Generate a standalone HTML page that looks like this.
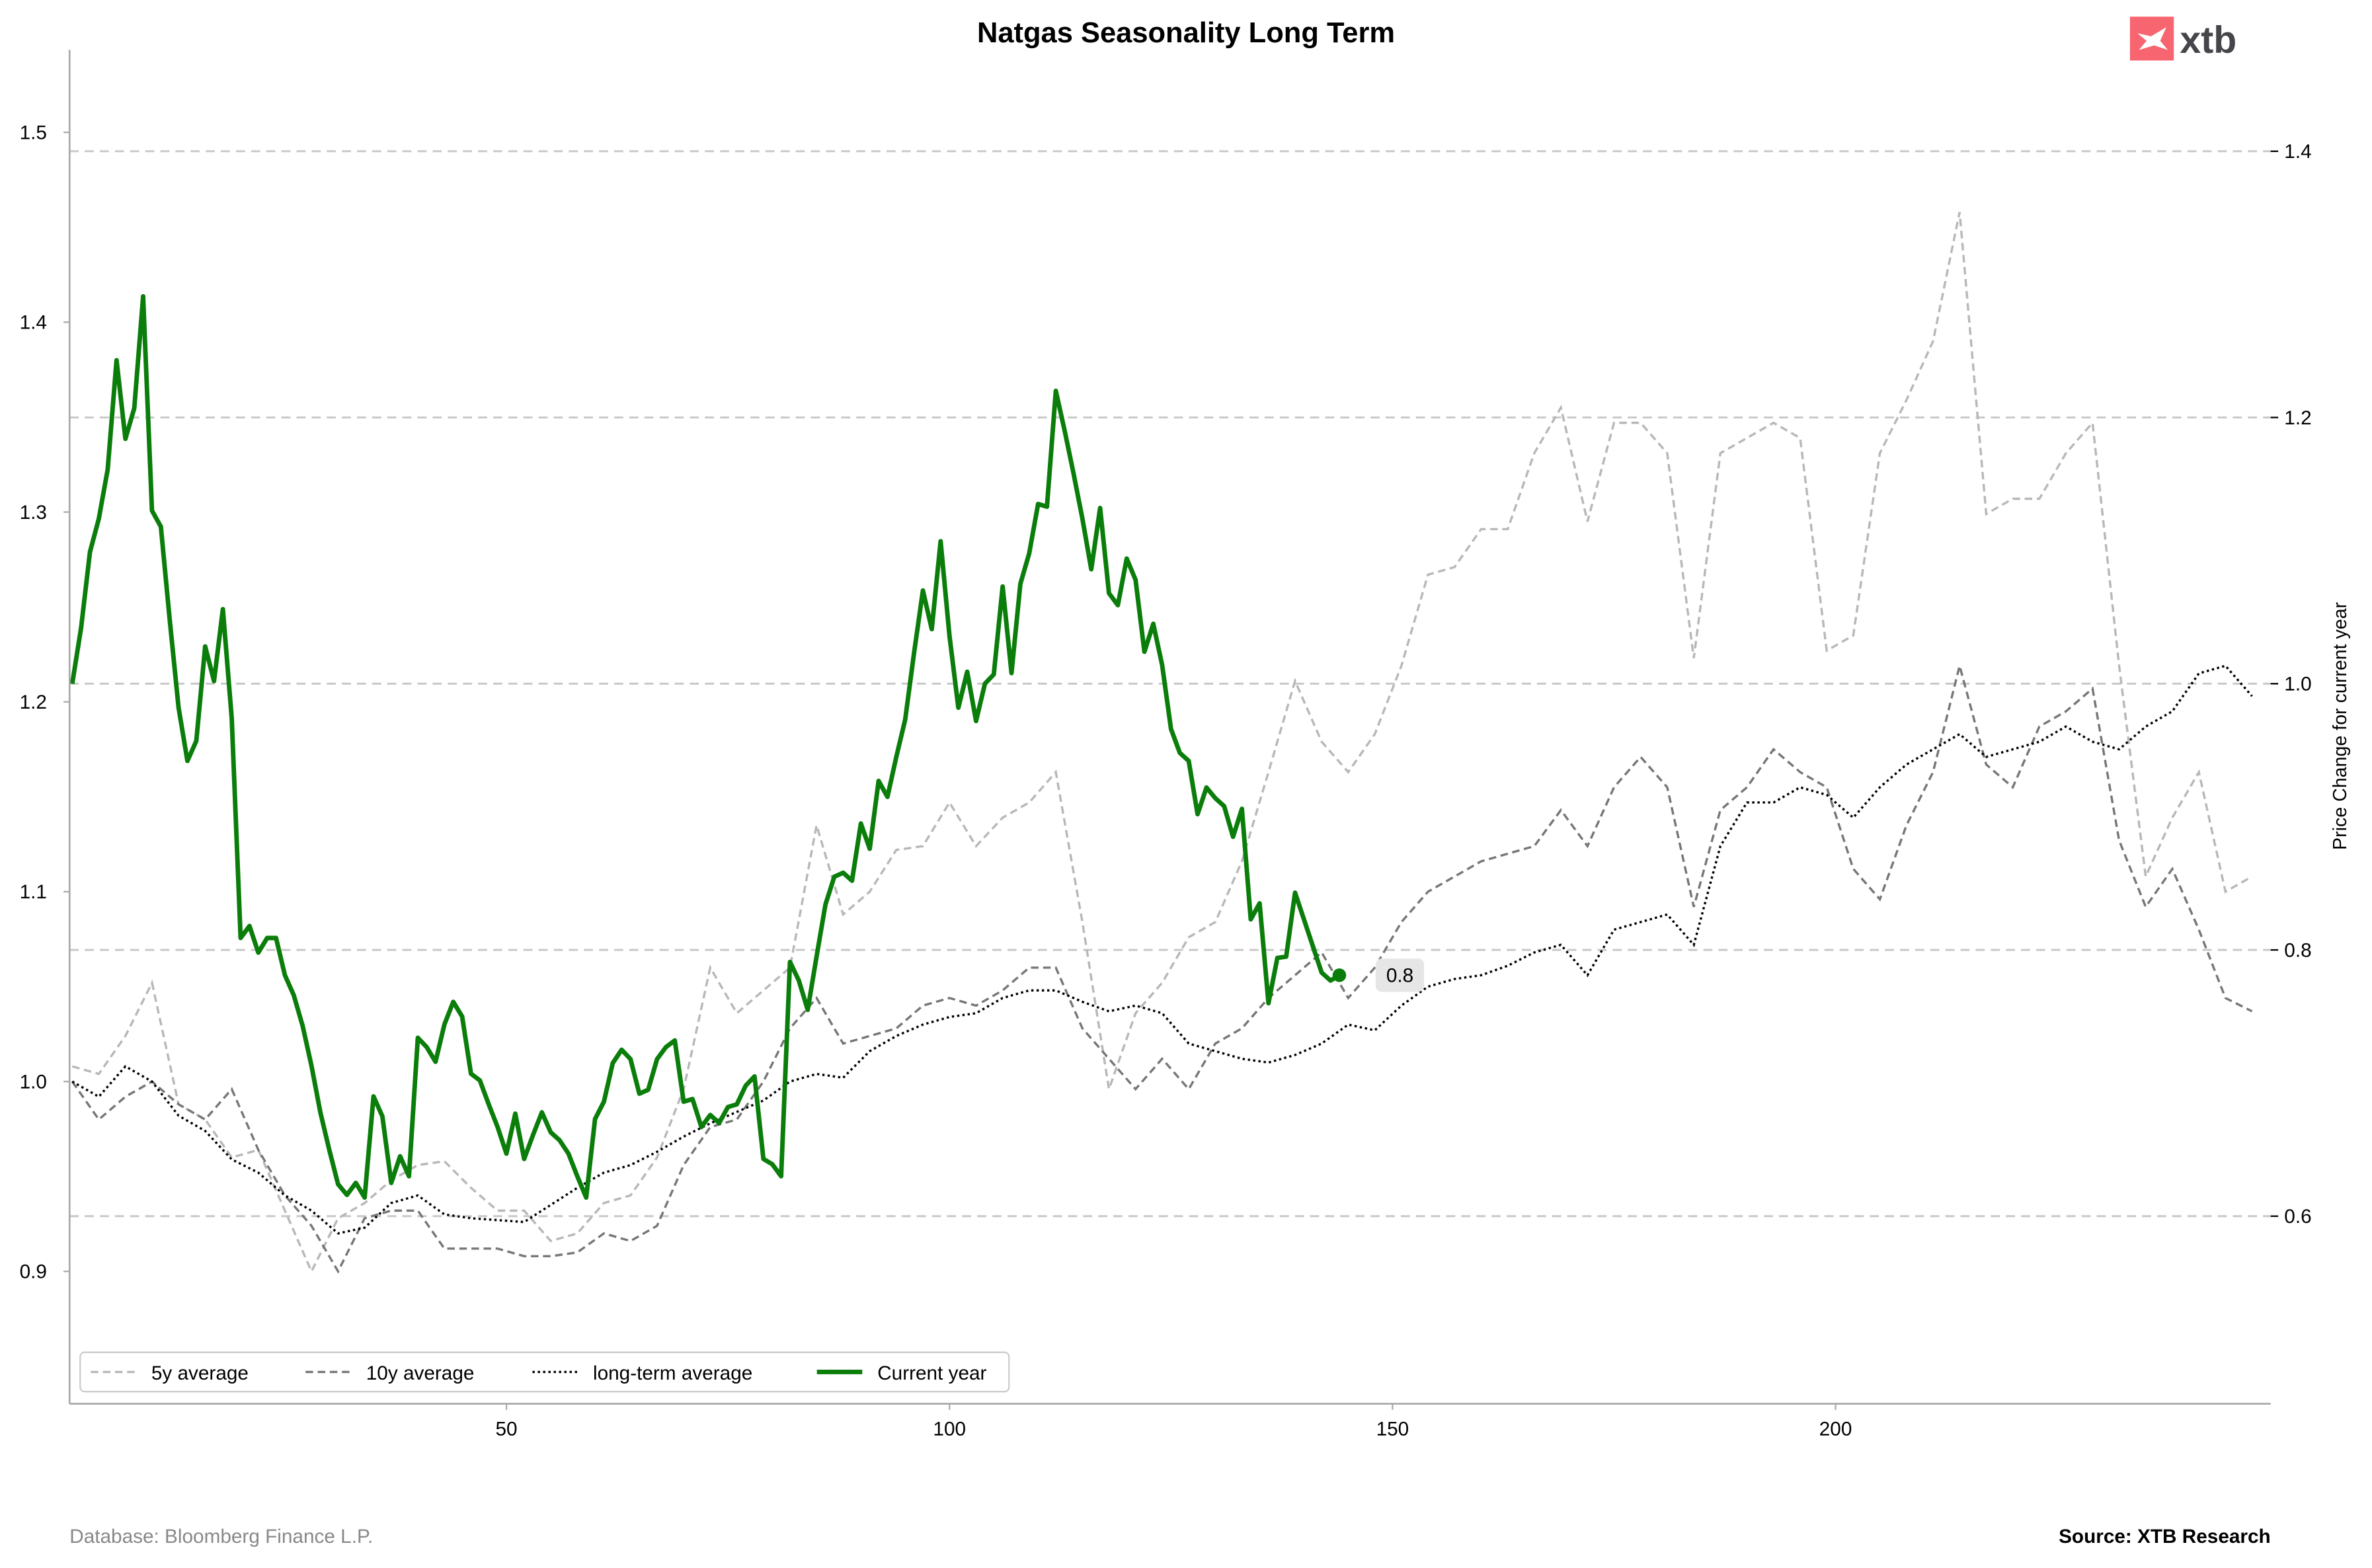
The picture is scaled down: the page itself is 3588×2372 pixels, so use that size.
<!DOCTYPE html>
<html><head><meta charset="utf-8"><style>
html,body{margin:0;padding:0;background:#fff;}
svg{display:block;font-family:"Liberation Sans",Arial,sans-serif;}
</style></head><body>
<svg id="chart" width="3588" height="2372" viewBox="0 0 1568 1036.6" preserveAspectRatio="none" xmlns="http://www.w3.org/2000/svg">
<rect x="0" y="0" width="1568" height="1036.6" fill="#fff"/>
<text x="784" y="28" text-anchor="middle" font-size="19" font-weight="bold" fill="#000">Natgas Seasonality Long Term</text>
<g>
<rect x="1408" y="11" width="29" height="29" fill="#f76670"/>
<path d="M1413,22 L1422,24 L1432,18 L1428,27 L1433,33 L1424,30 L1414,33 L1419,27 Z" fill="#fff"/>
<text x="1441" y="35" font-size="25" font-weight="bold" fill="#45454a">xtb</text>
</g>
<g id="grid"></g>
<g id="series"></g>
<line x1="46" y1="33" x2="46" y2="928" stroke="#aaa" stroke-width="1.2"/>
<line x1="46" y1="928" x2="1501" y2="928" stroke="#aaa" stroke-width="1.2"/>
<g id="axes"></g>
<text transform="translate(1551,480) rotate(-90)" text-anchor="middle" font-size="12.5" fill="#000">Price Change for current year</text>
<g>
<rect x="53" y="894" width="614" height="26" rx="3" fill="#fff" stroke="#ccc" stroke-width="1"/>
<g><line x1="60" y1="907" x2="90" y2="907" stroke="#b8b8b8" stroke-width="1.5" stroke-dasharray="5,3"/><text x="100" y="912" font-size="13">5y average</text></g>
<g><line x1="202" y1="907" x2="232" y2="907" stroke="#777" stroke-width="1.5" stroke-dasharray="5,3"/><text x="242" y="912" font-size="13">10y average</text></g>
<g><line x1="352" y1="907" x2="382" y2="907" stroke="#000" stroke-width="1.5" stroke-dasharray="1.5,2"/><text x="392" y="912" font-size="13">long-term average</text></g>
<g><line x1="540" y1="907" x2="570" y2="907" stroke="#0a7d0a" stroke-width="3"/><text x="580" y="912" font-size="13">Current year</text></g>
</g>
<text x="46" y="1020" font-size="13" fill="#888">Database: Bloomberg Finance L.P.</text>
<text x="1501" y="1020" text-anchor="end" font-size="13" font-weight="bold" fill="#000">Source: XTB Research</text>
</svg>
<script>
const xTicks=[50,100,150,200];
const leftTicks=[0.9,1.0,1.1,1.2,1.3,1.4,1.5];
const rightTicks=[0.6,0.8,1.0,1.2,1.4];
const sampleStep=3;
const fiveYear=[1.008,1.004,1.024,1.052,0.988,0.980,0.960,0.964,0.932,0.900,0.928,0.936,0.948,0.956,0.958,0.944,0.932,0.932,0.916,0.920,0.936,0.940,0.960,0.996,1.060,1.036,1.048,1.060,1.135,1.088,1.100,1.122,1.124,1.147,1.124,1.139,1.147,1.163,1.084,0.996,1.036,1.052,1.076,1.084,1.116,1.163,1.211,1.179,1.163,1.183,1.219,1.267,1.271,1.291,1.291,1.331,1.355,1.295,1.347,1.347,1.331,1.223,1.331,1.339,1.347,1.339,1.227,1.235,1.331,1.359,1.390,1.458,1.299,1.307,1.307,1.331,1.347,1.219,1.108,1.139,1.163,1.100,1.108];
const tenYear=[1.000,0.980,0.992,1.000,0.988,0.980,0.996,0.964,0.940,0.924,0.900,0.928,0.932,0.932,0.912,0.912,0.912,0.908,0.908,0.910,0.920,0.916,0.924,0.956,0.976,0.980,1.000,1.028,1.044,1.020,1.024,1.028,1.040,1.044,1.040,1.048,1.060,1.060,1.028,1.012,0.996,1.012,0.996,1.020,1.028,1.044,1.056,1.068,1.044,1.060,1.084,1.100,1.108,1.116,1.120,1.124,1.143,1.124,1.155,1.171,1.155,1.092,1.143,1.155,1.175,1.163,1.155,1.112,1.096,1.135,1.163,1.219,1.167,1.155,1.187,1.195,1.207,1.127,1.092,1.112,1.080,1.044,1.037];
const longTerm=[1.000,0.992,1.008,1.000,0.982,0.974,0.959,0.952,0.940,0.932,0.920,0.923,0.936,0.940,0.930,0.928,0.927,0.926,0.935,0.944,0.952,0.956,0.963,0.971,0.978,0.984,0.990,1.000,1.004,1.002,1.016,1.024,1.030,1.034,1.036,1.044,1.048,1.048,1.042,1.037,1.040,1.036,1.020,1.016,1.012,1.010,1.014,1.020,1.030,1.027,1.040,1.050,1.054,1.056,1.061,1.068,1.072,1.056,1.080,1.084,1.088,1.072,1.124,1.147,1.147,1.155,1.151,1.139,1.155,1.167,1.175,1.183,1.171,1.175,1.179,1.187,1.179,1.175,1.187,1.195,1.215,1.219,1.203];
const currentYear=[1.000,1.042,1.099,1.124,1.161,1.243,1.184,1.207,1.291,1.130,1.118,1.048,0.982,0.942,0.957,1.028,1.002,1.056,0.974,0.809,0.818,0.798,0.809,0.809,0.781,0.766,0.743,0.713,0.678,0.650,0.624,0.616,0.625,0.614,0.690,0.675,0.625,0.645,0.630,0.734,0.727,0.716,0.744,0.761,0.750,0.707,0.702,0.684,0.667,0.647,0.677,0.643,0.661,0.678,0.663,0.657,0.647,0.630,0.614,0.673,0.686,0.715,0.725,0.718,0.692,0.695,0.718,0.727,0.732,0.686,0.688,0.667,0.676,0.670,0.682,0.684,0.698,0.705,0.643,0.639,0.630,0.791,0.777,0.755,0.795,0.834,0.855,0.858,0.852,0.895,0.876,0.927,0.915,0.945,0.973,1.023,1.070,1.041,1.107,1.036,0.982,1.009,0.972,1.000,1.007,1.073,1.008,1.075,1.098,1.135,1.133,1.220,1.190,1.158,1.124,1.086,1.132,1.068,1.059,1.094,1.078,1.024,1.045,1.014,0.966,0.948,0.942,0.902,0.922,0.914,0.908,0.885,0.906,0.823,0.835,0.760,0.794,0.795,0.843,0.823,0.803,0.783,0.777,0.781];

const NS="http://www.w3.org/2000/svg";
const L=46,R=1501,T=33,B=928;
const xMin=0.7,xMax=249.1;
const xs=d=>L+(d-xMin)/(xMax-xMin)*(R-L);
const yL=v=>715-(v-1)*1255;
const yR=v=>452-(v-1)*880;
function mk(tag,attrs,parent){const e=document.createElementNS(NS,tag);for(const k in attrs)e.setAttribute(k,attrs[k]);parent.appendChild(e);return e;}
const grid=document.getElementById('grid'),axes=document.getElementById('axes'),ser=document.getElementById('series');
rightTicks.forEach(t=>{
  const g=mk('line',{x1:L,x2:R,y1:yR(t),y2:yR(t),stroke:'#c8c8c8','stroke-width':1.3,'stroke-dasharray':'6,4'},grid);
  
  
  const tk=mk('line',{x1:R,x2:R+5,y1:yR(t),y2:yR(t),stroke:'#000','stroke-width':1},axes);
  
  
  const tx=mk('text',{x:R+9,y:yR(t)+4.5,'font-size':13},axes);tx.textContent=t.toFixed(1);
  
  
});
leftTicks.forEach(t=>{
  const tk=mk('line',{x1:L-4,x2:L,y1:yL(t),y2:yL(t),stroke:'#aaa','stroke-width':1},axes);
  
  
  const tx=mk('text',{x:L-15,y:yL(t)+4.5,'font-size':13,'text-anchor':'end'},axes);tx.textContent=t.toFixed(1);
  
  
});
xTicks.forEach(t=>{
  const tk=mk('line',{x1:xs(t),x2:xs(t),y1:B,y2:B+4,stroke:'#aaa','stroke-width':1},axes);
  
  
  const tx=mk('text',{x:xs(t),y:B+21,'font-size':13,'text-anchor':'middle'},axes);tx.textContent=t;
  
  
});
function pathOf(arr,step,ys){return arr.map((v,i)=>(i?'L':'M')+xs(1+i*step).toFixed(2)+','+ys(v).toFixed(2)).join(' ');}
const p5=mk('path',{d:pathOf(fiveYear,sampleStep,yL),fill:'none',stroke:'#b8b8b8','stroke-width':1.5,'stroke-dasharray':'5,3'},ser);


const p10=mk('path',{d:pathOf(tenYear,sampleStep,yL),fill:'none',stroke:'#777','stroke-width':1.5,'stroke-dasharray':'5,3'},ser);


const plt=mk('path',{d:pathOf(longTerm,sampleStep,yL),fill:'none',stroke:'#000','stroke-width':1.5,'stroke-dasharray':'1.5,2'},ser);


const pc=mk('path',{d:pathOf(currentYear,1,yR),fill:'none',stroke:'#0a7d0a','stroke-width':3,'stroke-linejoin':'round'},ser);


const lastI=currentYear.length-1,lastV=currentYear[lastI];
const cx=xs(1+lastI),cy=yR(lastV);
const dot=mk('circle',{cx:cx,cy:cy,r:4.5,fill:'#0a7d0a'},ser);


const lb=mk('rect',{x:cx+24,y:cy-11,width:32,height:22,rx:4,fill:'#e6e6e6'},ser);


const lt=mk('text',{x:cx+40,y:cy+4.5,'font-size':13,'text-anchor':'middle'},ser);lt.textContent=lastV.toFixed(1);


</script>
</body></html>
